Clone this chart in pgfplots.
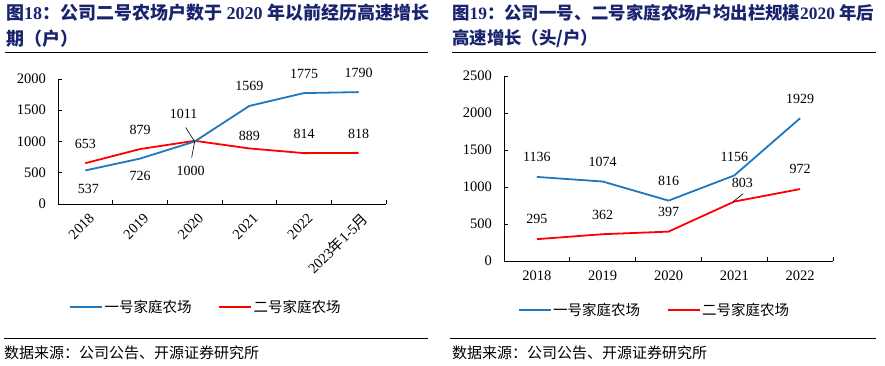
\documentclass[border=0pt]{standalone}
\usepackage{pgfplots}
\pgfplotsset{compat=1.18}
\usepackage{fontspec}
\setmainfont{Liberation Serif}
\newfontfamily\cjk{Noto Sans CJK SC}
\definecolor{tblue}{RGB}{26,35,110}
\definecolor{lblue}{RGB}{31,119,190}
\definecolor{lred}{RGB}{255,0,0}
\pgfplotsset{
 mystyle/.style={
  scale only axis, axis lines*=left, axis line style={-, line width=0.8pt},
  tick align=inside, tick style={black, line width=0.8pt}, major tick length=4pt,
  /pgf/number format/assume math mode=true, /pgf/number format/1000 sep={},
  tick label style={font=\fontsize{14.5}{15}\selectfont},
  yticklabel style={inner sep=0pt, anchor=east, xshift=-12pt},
  legend style={draw=none, fill=none, font=\cjk\fontsize{14.5}{15}\selectfont, legend columns=2,
    /tikz/every even column/.append style={column sep=25pt}, nodes={inner sep=1.5pt}},
  legend image code/.code={\draw[#1, line width=2pt] (0pt,0pt) -- (32pt,0pt);},
  clip=false,
 },
 lab/.style={nodes near coords, point meta=explicit symbolic,
  visualization depends on={value \thisrow{dx} \as \dx},
  visualization depends on={value \thisrow{dy} \as \dy},
  every node near coord/.append style={anchor=center, xshift=\dx pt, yshift=\dy pt,
    font=\fontsize{14}{14}\selectfont, text=black, inner sep=0pt}},
}
\begin{document}
\begin{tikzpicture}
\useasboundingbox (0,0) rectangle (885pt,366pt);
% ---------- titles ----------
\node[anchor=west, inner sep=0pt, text=tblue, font=\bfseries\fontsize{18}{20}\selectfont] at (6pt,353pt)
 {{\cjk 图}18{\cjk ：公司二号农场户数于} 2020 {\cjk 年以前经历高速增长}};
\node[anchor=west, inner sep=0pt, text=tblue, font=\bfseries\fontsize{18}{20}\selectfont] at (6pt,327pt)
 {{\cjk 期（户）}};
\node[anchor=west, inner sep=0pt, text=tblue, font=\bfseries\fontsize{17.4}{20}\selectfont] at (452pt,353pt)
 {{\cjk 图}19{\cjk ：公司一号、二号家庭农场户均出栏规模}2020 {\cjk 年后}};
\node[anchor=west, inner sep=0pt, text=tblue, font=\bfseries\fontsize{17.4}{20}\selectfont] at (452pt,327pt)
 {{\cjk 高速增长（头/户）}};
\draw[line width=0.8pt] (5pt,314pt) -- (428pt,314pt);
\draw[line width=0.8pt] (452pt,314pt) -- (876pt,314pt);
\draw[line width=0.8pt] (4pt,28pt) -- (428pt,28pt);
\draw[line width=0.8pt] (450pt,28pt) -- (876pt,28pt);
\node[anchor=west, inner sep=0pt, font=\cjk\fontsize{15}{15}\selectfont] at (4pt,13pt) {数据来源：公司公告、开源证券研究所};
\node[anchor=west, inner sep=0pt, font=\cjk\fontsize{15}{15}\selectfont] at (452pt,13pt) {数据来源：公司公告、开源证券研究所};
% ---------- left chart ----------
\begin{axis}[mystyle,
  at={(58pt,162pt)}, anchor=south west, width=328pt, height=125pt,
  xmin=-0.5, xmax=5.5, ymin=0, ymax=2000,
  ytick={0,500,...,2000},
  xtick={-0.5,0.5,...,5.5}, xticklabels={},
  extra x ticks={0,1,2,3,4,5},
  extra x tick labels={2018,2019,2020,2021,2022,{2023{\cjk 年}1-5{\cjk 月}}},
  extra x tick style={major tick length=0pt, xticklabel style={rotate=45, anchor=east, inner sep=0pt, xshift=-4pt, yshift=-13pt}},
  legend style={at={(0.45,-0.824)}, anchor=center},
  reverse legend,
]
\addplot[lred, line width=1.8pt, line join=round, lab] table[x=x, y=y, meta=l] {
x y l dx dy
0 653 653 0 19
1 879 879 0 19
2 1011 1011 -11 27
3 889 889 0 13
4 814 814 0 19
5 818 818 0 19
};
\addlegendentry{二号家庭农场}
\addplot[lblue, line width=1.8pt, line join=round, lab] table[x=x, y=y, meta=l] {
x y l dx dy
0 537 537 3 -18
1 726 726 0 -17
2 1000 1000 -4 -29.5
3 1569 1569 0 20
4 1775 1775 0 19
5 1790 1790 0 19
};
\addlegendentry{一号家庭农场}
\draw[black, line width=0.6pt] (axis cs:2,1000) -- ++(-9pt,14pt);
\draw[black, line width=0.6pt] (axis cs:2,1000) -- ++(-3pt,-16pt);
\end{axis}
% ---------- right chart ----------
\begin{axis}[mystyle,
  at={(504pt,105pt)}, anchor=south west, width=329pt, height=185pt,
  xmin=-0.5, xmax=4.5, ymin=0, ymax=2500,
  ytick={0,500,...,2500},
  xtick={-0.5,0.5,...,4.5}, xticklabels={},
  extra x ticks={0,1,2,3,4},
  extra x tick labels={2018,2019,2020,2021,2022},
  extra x tick style={major tick length=0pt, xticklabel style={anchor=north, inner sep=0pt, yshift=-10pt}},
  legend style={at={(0.456,-0.265)}, anchor=center},
]
\addplot[lblue, line width=1.8pt, line join=round, lab] table[x=x, y=y, meta=l] {
x y l dx dy
0 1136 1136 0 20
1 1074 1074 0 20
2 816 816 0 20
3 1156 1156 0 19
4 1929 1929 0 19
};
\addlegendentry{一号家庭农场}
\addplot[lred, line width=1.8pt, line join=round, lab] table[x=x, y=y, meta=l] {
x y l dx dy
0 295 295 0 20
1 362 362 0 19
2 397 397 0 20
3 803 803 8 19
4 972 972 0 20
};
\addlegendentry{二号家庭农场}
\draw[black, line width=0.6pt] (axis cs:3,803) ++(-1pt,0pt) -- ++(10pt,8pt);
\end{axis}
\end{tikzpicture}
\end{document}
